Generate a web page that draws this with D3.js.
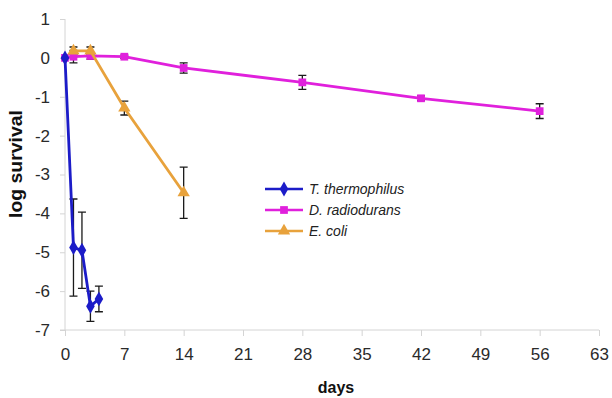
<!DOCTYPE html>
<html>
<head>
<meta charset="utf-8">
<script src="https://cdn.jsdelivr.net/npm/d3@7"></script>
<style>
  body { margin: 0; background: #fff; }
  svg { display: block; font-family: "Liberation Sans", Arial, sans-serif; }
  .axis path, .axis line { stroke: #d4d4d4; }
  .axis text { fill: #2a2a2a; font-size: 17px; }
</style>
</head>
<body>
<div id="chart"></div>
<script>
// x ticks (days) and y ticks (log survival)
const xTicks = [0, 7, 14, 21, 28, 35, 42, 49, 56, 63];
const yTicks = [1, 0, -1, -2, -3, -4, -5, -6, -7];

// T. thermophilus
const thermDays = [0, 1, 2, 3, 4];
const thermMean = [0, -4.88, -4.95, -6.39, -6.2];
const thermErr = [0, 1.25, 0.98, 0.39, 0.33];

// D. radiodurans
const radioDays = [0, 1, 3, 7, 14, 28, 42, 56];
const radioMean = [0, 0.03, 0.05, 0.03, -0.26, -0.63, -1.04, -1.37];
const radioErr = [0, 0.16, 0.08, 0.04, 0.13, 0.18, 0.06, 0.19];

// E. coli
const coliDays = [1, 3, 7, 14];
const coliMean = [0.18, 0.18, -1.29, -3.47];
const coliErr = [0.1, 0.1, 0.18, 0.66];

const seriesNames = ['T. thermophilus', 'D. radiodurans', 'E. coli'];

const width = 612;
const height = 398;
const plotLeft = 65;
const plotRight = 599;
const plotTop = 19;
const plotBottom = 330;

const build = (days, mean, err) => days.map((d, i) => ({ x: d, y: mean[i], e: err[i] }));

const series = [
  { name: seriesNames[0], color: '#1c1cc8', symbol: d3.symbolDiamond, size: 64, data: build(thermDays, thermMean, thermErr) },
  { name: seriesNames[1], color: '#e020dc', symbol: d3.symbolSquare, size: 60, data: build(radioDays, radioMean, radioErr) },
  { name: seriesNames[2], color: '#e8a23c', symbol: d3.symbolTriangle, size: 66, data: build(coliDays, coliMean, coliErr) }
];

const svg = d3.select('#chart')
              .append('svg')
              .attr('width', width)
              .attr('height', height);

const x = d3.scaleLinear().domain([0, 63]).range([plotLeft, plotRight]);
const y = d3.scaleLinear().domain([-7, 1]).range([plotBottom, plotTop]);

// axes
svg.append('g')
   .attr('class', 'axis')
   .attr('transform', `translate(0, ${plotBottom})`)
   .call(d3.axisBottom(x).tickValues(xTicks).tickSize(6).tickSizeOuter(0).tickPadding(12))
   .call(g => g.select('.domain').attr('d', `M${plotLeft - 5},0H${plotRight}`));

svg.append('g')
   .attr('class', 'axis')
   .attr('transform', `translate(${plotLeft}, 0)`)
   .call(d3.axisLeft(y).tickValues(yTicks).tickSize(5).tickSizeOuter(0).tickPadding(10)
           .tickFormat(d => String(d)))
   .call(g => g.select('.domain').attr('d', `M0,${plotTop}V${plotBottom}`));

// error bars
const cap = 4;
const bars = svg.append('g')
                .attr('stroke', '#1a1a1a')
                .attr('stroke-width', 1.3)
                .attr('fill', 'none');
series.forEach(s => {
  s.data.filter(d => d.e > 0).forEach(d => {
    const cx = x(d.x);
    const y0 = y(d.y - d.e);
    const y1 = y(d.y + d.e);
    bars.append('path')
        .attr('d', `M${cx},${y0}V${y1}M${cx - cap},${y0}H${cx + cap}M${cx - cap},${y1}H${cx + cap}`);
  });
});

// lines and markers
const line = d3.line().x(d => x(d.x)).y(d => y(d.y));
const drawOrder = [1, 2, 0];
drawOrder.forEach(i => {
  const s = series[i];
  svg.append('path')
     .datum(s.data)
     .attr('fill', 'none')
     .attr('stroke', s.color)
     .attr('stroke-width', 2.8)
     .attr('d', line);
  svg.append('g')
     .selectAll('path')
     .data(s.data)
     .enter()
     .append('path')
     .attr('transform', d => `translate(${x(d.x)}, ${y(d.y)})`)
     .attr('d', d3.symbol().type(s.symbol).size(s.size))
     .attr('fill', s.color);
});

// legend
const legend = svg.append('g').attr('transform', 'translate(265, 189)');
series.forEach((s, i) => {
  const row = legend.append('g').attr('transform', `translate(0, ${i * 21})`);
  row.append('line')
     .attr('x1', 0).attr('x2', 38)
     .attr('stroke', s.color)
     .attr('stroke-width', 2.6);
  row.append('path')
     .attr('transform', 'translate(19, 0)')
     .attr('d', d3.symbol().type(s.symbol).size(s.size))
     .attr('fill', s.color);
  row.append('text')
     .attr('x', 44)
     .attr('dy', '0.35em')
     .attr('font-size', 14)
     .attr('font-style', 'italic')
     .attr('fill', '#222')
     .text(s.name);
});

// axis titles
svg.append('text')
   .attr('x', (plotLeft + plotRight) / 2 + 4)
   .attr('y', 393)
   .attr('text-anchor', 'middle')
   .attr('font-size', 16)
   .attr('font-weight', 'bold')
   .attr('fill', '#111')
   .text('days');

svg.append('text')
   .attr('transform', 'translate(22, 164) rotate(-90)')
   .attr('text-anchor', 'middle')
   .attr('font-size', 18)
   .attr('font-weight', 'bold')
   .attr('fill', '#111')
   .attr('textLength', 108)
   .attr('lengthAdjust', 'spacingAndGlyphs')
   .text('log survival');
</script>
</body>
</html>
